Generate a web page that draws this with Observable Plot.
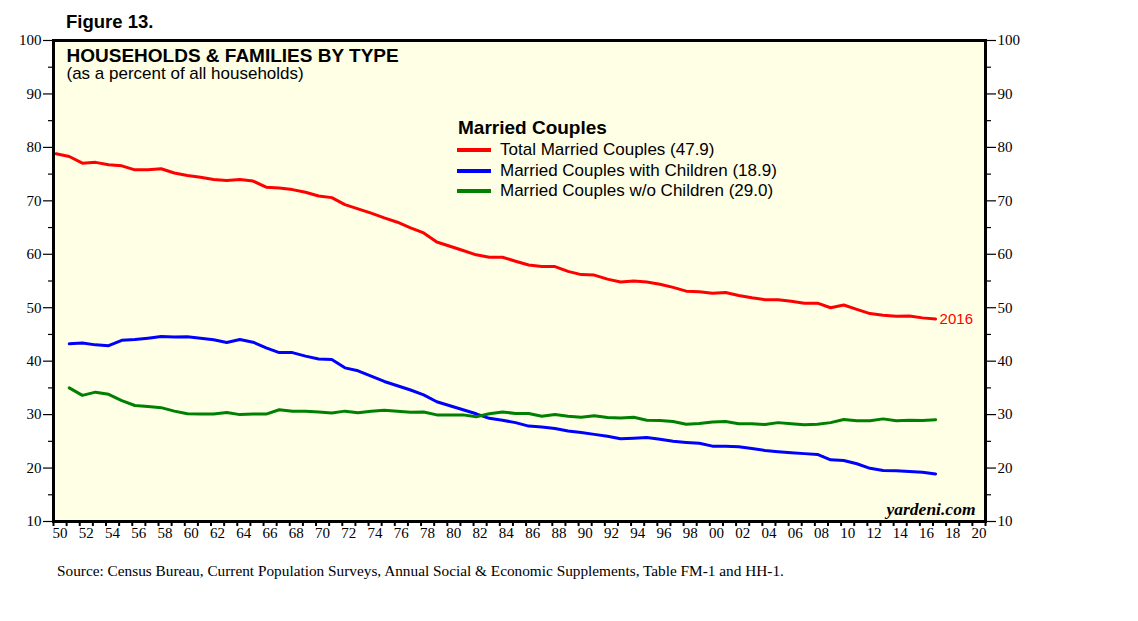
<!DOCTYPE html>
<html>
<head>
<meta charset="utf-8">
<script src="https://cdn.jsdelivr.net/npm/d3@7"></script>
<script src="https://cdn.jsdelivr.net/npm/@observablehq/plot@0.6"></script>
<style>
  body { margin: 0; background: #ffffff; }
  #wrap { position: relative; width: 1138px; height: 621px; overflow: hidden; background: #ffffff; }
  #chart { position: absolute; left: 0; top: 0; }
  .sans { font-family: "Liberation Sans", Arial, sans-serif; color: #000; }
  #fig { position: absolute; left: 66px; top: 12px; font-size: 18.5px; line-height: 20px; font-weight: bold; white-space: nowrap; }
  #legend-title { position: absolute; left: 458px; top: 117px; font-size: 19px; line-height: 22px; font-weight: bold; white-space: nowrap; }
  .lrow { position: absolute; left: 457px; height: 20px; white-space: nowrap; }
  .lrow .sw { position: absolute; left: 0; top: 8px; width: 34px; height: 4px; }
  .lrow .lt { position: absolute; left: 43px; top: 0; font-size: 17px; line-height: 20px; }
  #source { position: absolute; left: 57px; top: 562px; font-family: "Liberation Serif", "Times New Roman", serif; font-size: 15.3px; line-height: 17px; white-space: nowrap; color: #000; }
</style>
</head>
<body>
<div id="wrap">
  <div id="chart"></div>
  <div id="fig" class="sans"></div>
  <div id="legend" class="sans"></div>
  <div id="source"></div>
</div>
<script>
// ---- text ----
const figureLabel = "Figure 13.";
const titleText = "HOUSEHOLDS & FAMILIES BY TYPE";
const subtitleText = "(as a percent of all households)";
const legendTitle = "Married Couples";
const sourceText = "Source: Census Bureau, Current Population Surveys, Annual Social & Economic Supplements, Table FM-1 and HH-1.";
const brandText = "yardeni.com";
const lastLabel = "2016";

// ---- data (percent of all households) ----
const years = d3.range(1950, 2018);
const seriesNames = ["Total Married Couples (47.9)", "Married Couples with Children (18.9)", "Married Couples w/o Children (29.0)"];
const seriesColors = ["#ff0000", "#0000ff", "#008000"];

const totalMarried = [
  78.8, 78.3, 77.05, 77.2, 76.75, 76.55, 75.8, 75.8, 76.0, 75.2,
  74.75, 74.4, 74.0, 73.8, 74.0, 73.7, 72.55, 72.4, 72.1, 71.6,
  70.9, 70.6, 69.3, 68.5, 67.7, 66.8, 66.0, 64.95, 64.0, 62.3,
  61.5, 60.7, 59.9, 59.45, 59.45, 58.7, 58.0, 57.7, 57.7, 56.8,
  56.2, 56.1, 55.35, 54.8, 55.0, 54.8, 54.4, 53.8, 53.1, 53.0,
  52.7, 52.85, 52.3, 51.85, 51.5, 51.5, 51.2, 50.85, 50.85, 50.0,
  50.5, 49.7, 48.9, 48.6, 48.4, 48.45, 48.1, 47.9
];
const withChildren = [
  null, 43.25, 43.4, 43.05, 42.9, 43.9, 44.05, 44.3, 44.6, 44.5,
  44.55, 44.3, 44.0, 43.5, 44.05, 43.55, 42.5, 41.6, 41.6, 40.95,
  40.4, 40.3, 38.75, 38.2, 37.2, 36.2, 35.4, 34.6, 33.7, 32.4,
  31.65, 30.9, 30.15, 29.3, 28.95, 28.5, 27.85, 27.7, 27.4, 26.95,
  26.65, 26.3, 25.95, 25.5, 25.6, 25.7, 25.4, 25.0, 24.8, 24.65,
  24.1, 24.1, 24.0, 23.65, 23.3, 23.05, 22.85, 22.7, 22.55, 21.55,
  21.4, 20.8, 19.95, 19.55, 19.5, 19.35, 19.2, 18.9
];
const withoutChildren = [
  null, 35.0, 33.6, 34.2, 33.8, 32.6, 31.7, 31.5, 31.3, 30.65,
  30.15, 30.1, 30.1, 30.4, 30.0, 30.1, 30.1, 30.9, 30.65, 30.65,
  30.5, 30.3, 30.65, 30.35, 30.65, 30.8, 30.65, 30.45, 30.5, 29.95,
  29.95, 29.95, 29.6, 30.15, 30.5, 30.2, 30.2, 29.7, 30.0, 29.7,
  29.5, 29.8, 29.45, 29.35, 29.5, 28.95, 28.9, 28.7, 28.2, 28.35,
  28.6, 28.7, 28.3, 28.3, 28.15, 28.5, 28.3, 28.1, 28.2, 28.5,
  29.1, 28.85, 28.85, 29.2, 28.85, 28.95, 28.9, 29.05
];

const yMajorTicks = d3.range(10, 101, 10);
const yMinorTicks = d3.range(15, 100, 10);
const xYearTicks = d3.range(1950, 2022);
const xLabelYears = d3.range(1950, 2021, 2);

// ---- build table ----
const rows = [];
[totalMarried, withChildren, withoutChildren].forEach((vals, i) => {
  vals.forEach((v, j) => {
    if (v != null) rows.push({year: years[j], value: v, series: seriesNames[i]});
  });
});
const lastTotal = [{year: years[years.length - 1], value: totalMarried[totalMarried.length - 1]}];
const posX = d => d.year + 0.2; // March survey

const serif = '"Liberation Serif", "Times New Roman", serif';
const sans = '"Liberation Sans", Arial, sans-serif';

const chart = Plot.plot({
  width: 1138,
  height: 560,
  marginLeft: 53,
  marginRight: 153,
  marginTop: 40,
  marginBottom: 39,
  x: {domain: [1950, 2021], label: null},
  y: {domain: [10, 100], label: null},
  color: {domain: seriesNames, range: seriesColors},
  style: {background: "transparent", overflow: "visible", color: "#000"},
  marks: [
    Plot.frame({fill: "#ffffe6", stroke: null}),
    Plot.axisY({ticks: yMajorTicks, anchor: "left", tickSize: 10, tickPadding: 2, fontSize: 15, fontFamily: serif, strokeWidth: 1.2}),
    Plot.axisY({ticks: yMinorTicks, anchor: "left", tickSize: 5, tickFormat: () => "", strokeWidth: 1.2}),
    Plot.axisY({ticks: yMajorTicks, anchor: "right", tickSize: 10, tickPadding: 2, fontSize: 15, fontFamily: serif, strokeWidth: 1.2}),
    Plot.axisY({ticks: yMinorTicks, anchor: "right", tickSize: 5, tickFormat: () => "", strokeWidth: 1.2}),
    Plot.axisX({ticks: xYearTicks, anchor: "bottom", tickSize: 5, tickFormat: () => "", strokeWidth: 2}),
    Plot.axisX({ticks: xLabelYears.map(d => d + 0.5), anchor: "bottom", tickSize: 0, tickPadding: 6,
      tickFormat: d => String(Math.floor(d) % 100).padStart(2, "0"), fontSize: 15, fontFamily: serif}),
    Plot.line(rows, {x: posX, y: "value", z: "series", stroke: "series", strokeWidth: 3}),
    Plot.frame({stroke: "#000", strokeWidth: 3}),
    Plot.text(lastTotal, {x: posX, y: "value", text: () => lastLabel, dx: 4, textAnchor: "start",
      fill: "#ff0000", fontSize: 15, fontFamily: sans}),
    Plot.text([titleText], {text: d => d, frameAnchor: "top-left", lineAnchor: "top", dx: 13, dy: 7.5,
      fontSize: 19, fontWeight: "bold", fontFamily: sans, fill: "#000"}),
    Plot.text([subtitleText], {text: d => d, frameAnchor: "top-left", lineAnchor: "top", dx: 13, dy: 26,
      fontSize: 17, fontFamily: sans, fill: "#000"}),
    Plot.text([brandText], {text: d => d, frameAnchor: "bottom-right", lineAnchor: "top", dx: -10, dy: -19,
      fontSize: 17.5, fontStyle: "italic", fontWeight: "bold", fontFamily: serif, fill: "#000"})
  ]
});
document.getElementById("chart").appendChild(chart);

document.getElementById("fig").textContent = figureLabel;
document.getElementById("source").textContent = sourceText;

const legend = document.getElementById("legend");
const lt = document.createElement("div");
lt.id = "legend-title";
lt.textContent = legendTitle;
legend.appendChild(lt);
seriesNames.forEach((name, i) => {
  const row = document.createElement("div");
  row.className = "lrow";
  row.style.top = (140 + i * 20.5) + "px";
  const sw = document.createElement("div");
  sw.className = "sw";
  sw.style.background = seriesColors[i];
  const t = document.createElement("div");
  t.className = "lt";
  t.textContent = name;
  row.appendChild(sw);
  row.appendChild(t);
  legend.appendChild(row);
});
</script>
</body>
</html>
